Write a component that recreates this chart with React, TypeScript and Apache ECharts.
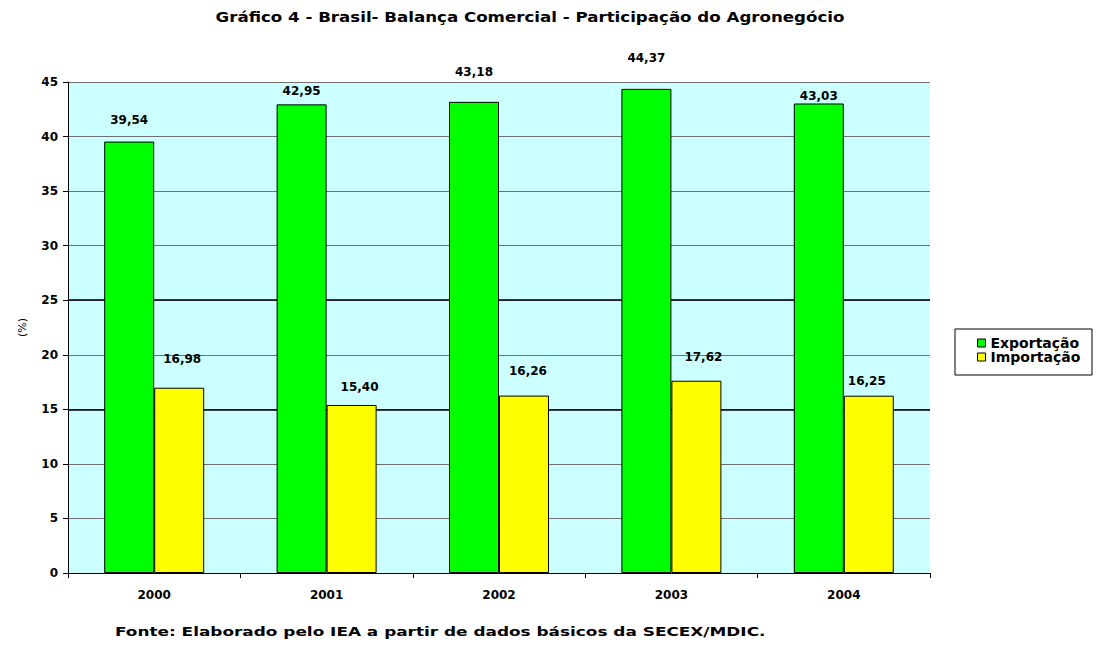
import React, { useEffect, useRef } from "react";
import * as echarts from "echarts";

const categories = ["2000", "2001", "2002", "2003", "2004"];
const exportacao = [39.54, 42.95, 43.18, 44.37, 43.03];
const importacao = [16.98, 15.4, 16.26, 17.62, 16.25];
const yTicks = [0, 5, 10, 15, 20, 25, 30, 35, 40, 45];

const FONT = "'DejaVu Sans', Arial, sans-serif";
const fmt = (v: number) => v.toFixed(2).replace(".", ",");

export default function App() {
  const ref = useRef<HTMLDivElement>(null);
  useEffect(() => {
    document.body.style.margin = "0";
    const chart = echarts.init(ref.current!, null, { renderer: "svg" });
    const expDist = [16, 7, 24, 25, 1];
    const impDist = [23, 12, 19, 18, 9];
    const impShift = [3, 8, 4, 7, -2];
    const labelBase = {
      show: true,
      position: "top",
      color: "#000",
      fontFamily: FONT,
      fontWeight: "bold",
      fontSize: 12,
      formatter: (p: any) => fmt(p.value),
    };
    chart.setOption({
      animation: false,
      backgroundColor: "#fff",
      grid: { left: 68, right: 169, top: 82, bottom: 73, show: true, backgroundColor: "#CCFFFF", borderWidth: 0 },
      legend: {
        orient: "vertical",
        left: 972,
        top: 331,
        itemWidth: 8,
        itemHeight: 8,
        itemGap: 0,
        textStyle: { fontFamily: FONT, fontWeight: "bold", fontSize: 14, lineHeight: 14, color: "#000" },
        data: [
          { name: "Exportação", icon: "rect", itemStyle: { borderColor: "#000", borderWidth: 1 } },
          { name: "Importação", icon: "rect", itemStyle: { borderColor: "#000", borderWidth: 1 } },
        ],
      },
      graphic: [
        { type: "rect", shape: { x: 955, y: 329, width: 137, height: 46 }, style: { fill: "none", stroke: "#000", lineWidth: 1 } },
        {
          type: "text",
          x: 530,
          y: 10,
          scaleX: 1.19,
          style: {
            text: "Gráfico 4 - Brasil- Balança Comercial - Participação do Agronegócio",
            fontFamily: FONT,
            fontWeight: "bold",
            fontSize: 14,
            fill: "#000",
            align: "center",
          },
        },
        {
          type: "text",
          x: 115,
          y: 625,
          scaleX: 1.3,
          style: {
            text: "Fonte: Elaborado pelo IEA a partir de dados básicos da SECEX/MDIC.",
            fontFamily: FONT,
            fontWeight: "bold",
            fontSize: 13,
            fill: "#000",
          },
        },
      ],
      xAxis: {
        type: "category",
        data: categories,
        axisLine: { lineStyle: { color: "#000", width: 1 } },
        axisTick: { show: true, length: 5, lineStyle: { color: "#000" } },
        axisLabel: { fontFamily: FONT, fontWeight: "bold", fontSize: 12, color: "#000", margin: 16 },
      },
      yAxis: {
        type: "value",
        min: yTicks[0],
        max: yTicks[yTicks.length - 1],
        interval: yTicks[1] - yTicks[0],
        name: "(%)",
        nameLocation: "middle",
        nameGap: 40,
        nameRotate: 90,
        nameTextStyle: { fontFamily: FONT, fontSize: 11, color: "#000" },
        axisLine: { show: true, lineStyle: { color: "#000", width: 1 } },
        axisTick: { show: true, length: 5, lineStyle: { color: "#000" } },
        axisLabel: { fontFamily: FONT, fontWeight: "bold", fontSize: 12, color: "#000", margin: 10 },
        splitLine: { show: true, lineStyle: { color: "#707070", width: 1 } },
      },
      series: [
        {
          name: "Exportação",
          type: "bar",
          barGap: "0%",
          barCategoryGap: "42%",
          itemStyle: { color: "#00FF00", borderColor: "#000", borderWidth: 1 },
          data: exportacao.map((v, i) => ({ value: v, label: { ...labelBase, distance: expDist[i] } })),
          label: labelBase,
          markLine: {
            silent: true,
            symbol: "none",
            label: { show: false },
            lineStyle: { color: "#000", type: "solid", width: 1.5 },
            data: [{ yAxis: 15 }, { yAxis: 25 }],
            z: 1,
          },
          z: 3,
        },
        {
          name: "Importação",
          type: "bar",
          itemStyle: { color: "#FFFF00", borderColor: "#000", borderWidth: 1 },
          data: importacao.map((v, i) => ({
            value: v,
            label: { ...labelBase, distance: impDist[i], offset: [impShift[i], 0] },
          })),
          label: labelBase,
          z: 3,
        },
      ],
    });
    return () => chart.dispose();
  }, []);
  return <div ref={ref} style={{ width: 1099, height: 646 }} />;
}
